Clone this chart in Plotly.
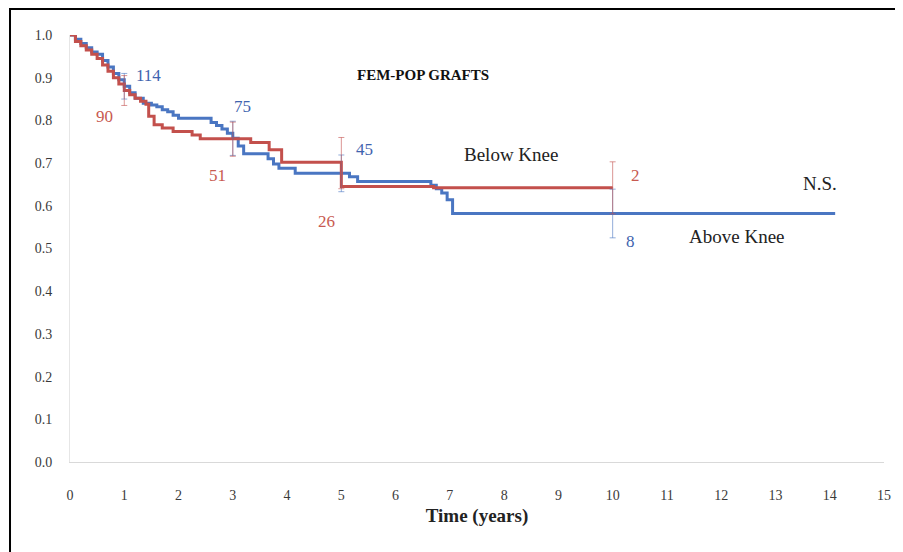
import plotly.graph_objects as go

# Above Knee (blue) Kaplan-Meier steps
ak_time = [0, 0.1, 0.2, 0.3, 0.4, 0.5, 0.6, 0.7, 0.8, 0.9, 1.0, 1.1, 1.2, 1.35, 1.5, 1.6, 1.7,
           1.8, 1.9, 2.0, 2.6, 2.7, 2.8, 2.9, 3.0, 3.1, 3.2, 3.65, 3.75, 3.85, 4.15, 5.15, 5.3,
           6.65, 6.75, 6.85, 6.95, 7.05, 14.1]
ak_surv = [1.0, 0.99, 0.98, 0.97, 0.96, 0.955, 0.94, 0.925, 0.91, 0.895, 0.88, 0.865, 0.852,
           0.84, 0.836, 0.832, 0.825, 0.82, 0.812, 0.805, 0.795, 0.788, 0.78, 0.77, 0.758, 0.74,
           0.722, 0.71, 0.698, 0.688, 0.676, 0.668, 0.657, 0.648, 0.64, 0.63, 0.614, 0.582, 0.582]

# Below Knee (red) Kaplan-Meier steps
bk_time = [0, 0.1, 0.2, 0.3, 0.4, 0.5, 0.6, 0.7, 0.8, 0.9, 1.0, 1.1, 1.2, 1.3, 1.4, 1.45, 1.55,
           1.7, 1.9, 2.25, 2.4, 3.33, 3.67, 3.9, 5.0, 6.7, 10.0]
bk_surv = [1.0, 0.985, 0.975, 0.965, 0.955, 0.945, 0.93, 0.915, 0.9, 0.885, 0.87, 0.86, 0.852,
           0.845, 0.838, 0.81, 0.79, 0.782, 0.774, 0.766, 0.757, 0.748, 0.731, 0.702, 0.645,
           0.642, 0.642]

# Confidence bars at selected times
ak_bar_time = [1, 3, 5, 10]
ak_bar_val = [0.88, 0.758, 0.676, 0.582]
ak_bar_err = [0.03, 0.04, 0.043, 0.057]
bk_bar_time = [1, 3, 5, 10]
bk_bar_val = [0.87, 0.756, 0.70, 0.642]
bk_bar_err = [0.035, 0.04, 0.06, 0.061]

# Numbers at risk labels
ak_risk_text = ["114", "75", "45", "8"]
ak_risk_x = [1.45, 3.18, 5.42, 10.33]
ak_risk_y = [0.904, 0.832, 0.731, 0.516]
bk_risk_text = ["90", "51", "26", "2"]
bk_risk_x = [0.64, 2.72, 4.72, 10.42]
bk_risk_y = [0.808, 0.672, 0.563, 0.672]

x_ticks = list(range(0, 16))
y_ticks = [i / 10 for i in range(0, 11)]
y_tick_labels = [f"{v:.1f}" for v in y_ticks]

BLUE = "#4A76C2"
RED = "#C3504C"
SERIF = "Liberation Serif, Times New Roman, serif"

fig = go.Figure()
fig.add_trace(go.Scatter(x=ak_time, y=ak_surv, mode="lines", line=dict(color=BLUE, width=3, shape="hv"),
                         name="Above Knee", showlegend=False))
fig.add_trace(go.Scatter(x=bk_time, y=bk_surv, mode="lines", line=dict(color=RED, width=3, shape="hv"),
                         name="Below Knee", showlegend=False))
fig.add_trace(go.Scatter(x=ak_bar_time, y=ak_bar_val, mode="markers", marker=dict(size=1, color=BLUE),
                         error_y=dict(type="data", array=ak_bar_err, color="rgba(74,118,194,0.6)",
                                      thickness=1, width=3), showlegend=False))
fig.add_trace(go.Scatter(x=bk_bar_time, y=bk_bar_val, mode="markers", marker=dict(size=1, color=RED),
                         error_y=dict(type="data", array=bk_bar_err, color="rgba(195,80,76,0.6)",
                                      thickness=1, width=3), showlegend=False))

for t, x, y in zip(ak_risk_text, ak_risk_x, ak_risk_y):
    fig.add_annotation(x=x, y=y, text=t, showarrow=False, font=dict(family=SERIF, size=17, color="#3F63AE"))
for t, x, y in zip(bk_risk_text, bk_risk_x, bk_risk_y):
    fig.add_annotation(x=x, y=y, text=t, showarrow=False, font=dict(family=SERIF, size=17, color="#C85A50"))

fig.add_annotation(x=6.51, y=0.906, text="<b>FEM-POP GRAFTS</b>", showarrow=False,
                   font=dict(family=SERIF, size=15, color="#111111"))
fig.add_annotation(x=8.13, y=0.721, text="Below Knee", showarrow=False,
                   font=dict(family=SERIF, size=19, color="#222222"))
fig.add_annotation(x=12.3, y=0.528, text="Above Knee", showarrow=False,
                   font=dict(family=SERIF, size=19, color="#222222"))
fig.add_annotation(x=13.82, y=0.653, text="N.S.", showarrow=False,
                   font=dict(family=SERIF, size=19, color="#222222"))

# outer frame (left, top, right)
fig.add_shape(type="rect", xref="paper", yref="paper", x0=-0.0737, x1=1.0172, y0=-0.3, y1=1.0609,
              line=dict(color="black", width=2), fillcolor="rgba(0,0,0,0)", layer="above")

# page body has an 8px margin, so the figure is sized and placed to compensate
fig.update_layout(
    width=895, height=544,
    margin=dict(l=62, r=19, t=27, b=90),
    paper_bgcolor="white", plot_bgcolor="white",
    font=dict(family=SERIF, size=14, color="#404040"),
    xaxis=dict(range=[0, 15], tickmode="array", tickvals=x_ticks, ticktext=[str(v) for v in x_ticks],
               showgrid=False, zeroline=False, showline=True, linecolor="#D9D9D9", linewidth=1,
               ticks="", ticklabelstandoff=20, tickfont=dict(family=SERIF, size=14, color="#3A3A3A"),
               title=dict(text="<b>Time (years)</b>", font=dict(family=SERIF, size=19, color="#222222"),
                          standoff=6)),
    yaxis=dict(range=[0, 1.0], tickmode="array", tickvals=y_ticks, ticktext=y_tick_labels,
               showgrid=False, zeroline=False, showline=True, linecolor="#E6E6E6", linewidth=1,
               ticks="", ticklabelstandoff=14, tickfont=dict(family=SERIF, size=14, color="#3A3A3A")),
)

fig.write_html("out.html")
